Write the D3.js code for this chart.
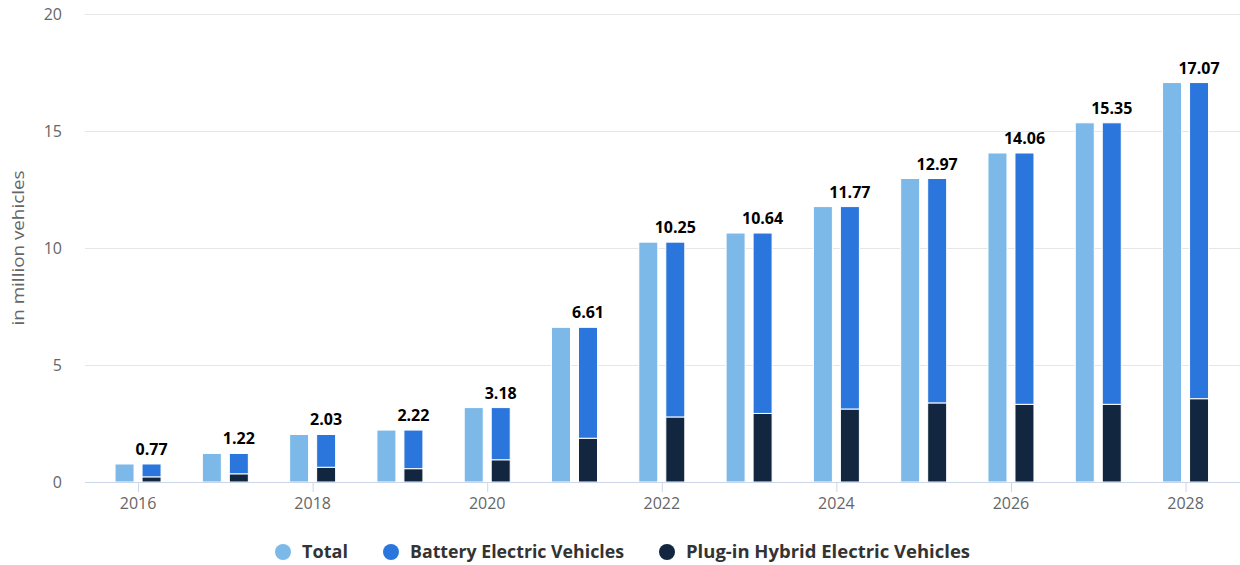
<!DOCTYPE html>
<html>
<head>
<meta charset="utf-8">
<script src="https://cdn.jsdelivr.net/npm/d3@7"></script>
<style>
  html, body { margin: 0; padding: 0; background: #fff; }
  svg { display: block; }
</style>
</head>
<body>
<svg id="chart" width="1240" height="565"></svg>
<script>
const years = [2016, 2017, 2018, 2019, 2020, 2021, 2022, 2023, 2024, 2025, 2026, 2027, 2028];
const totalValues = [0.77, 1.22, 2.03, 2.22, 3.18, 6.61, 10.25, 10.64, 11.77, 12.97, 14.06, 15.35, 17.07];
const bevValues = [0.55, 0.87, 1.40, 1.65, 2.23, 4.74, 7.47, 7.71, 8.65, 9.59, 10.74, 12.03, 13.51];
const phevValues = [0.22, 0.35, 0.63, 0.57, 0.95, 1.87, 2.78, 2.93, 3.12, 3.38, 3.32, 3.32, 3.56];
const yTicks = [0, 5, 10, 15, 20];
const xTickYears = [2016, 2018, 2020, 2022, 2024, 2026, 2028];
const seriesNames = ["Total", "Battery Electric Vehicles", "Plug-in Hybrid Electric Vehicles"];
const colors = ["#7cb9e8", "#2a76dd", "#12263f"];

const svg = d3.select("#chart");
const font = "'Open Sans', 'DejaVu Sans', sans-serif";

const x = d3.scaleBand().domain(years).range([94.4, 1229.2]).paddingInner(0).paddingOuter(0);
const y = d3.scaleLinear().domain([0, 20]).range([482, 14]);
const cx = d => x(d) + x.bandwidth() / 2;

const barW = 19, gap = 4;

// gridlines
svg.append("g").selectAll("line").data(yTicks.filter(t => t > 0)).join("line")
  .attr("x1", 85).attr("x2", 1240)
  .attr("y1", d => y(d) + 0.5).attr("y2", d => y(d) + 0.5)
  .attr("stroke", "#e6e6e6").attr("stroke-width", 1);

// y tick labels
svg.append("g").selectAll("text").data(yTicks).join("text")
  .attr("x", 62).attr("y", d => y(d) + 6)
  .attr("text-anchor", "end")
  .attr("font-family", font).attr("font-size", 16).attr("fill", "#666")
  .text(d => d);

// y axis title
svg.append("text")
  .attr("transform", "translate(24,248) rotate(-90)")
  .attr("text-anchor", "middle")
  .attr("font-family", font).attr("font-size", 17).attr("fill", "#666")
  .attr("textLength", 155).attr("lengthAdjust", "spacingAndGlyphs")
  .text("in million vehicles");

// bars
const groups = svg.append("g").selectAll("g").data(years).join("g");

groups.append("rect")
  .attr("x", (d) => cx(d) - gap - barW)
  .attr("width", barW)
  .attr("y", (d, i) => y(totalValues[i]))
  .attr("height", (d, i) => y(0) - y(totalValues[i]))
  .attr("fill", colors[0]).attr("stroke", "#fff").attr("stroke-width", 1);

groups.append("rect")
  .attr("x", (d) => cx(d) + gap)
  .attr("width", barW)
  .attr("y", (d, i) => y(phevValues[i]))
  .attr("height", (d, i) => y(0) - y(phevValues[i]))
  .attr("fill", colors[2]).attr("stroke", "#fff").attr("stroke-width", 1);

groups.append("rect")
  .attr("x", (d) => cx(d) + gap)
  .attr("width", barW)
  .attr("y", (d, i) => y(phevValues[i] + bevValues[i]))
  .attr("height", (d, i) => y(phevValues[i]) - y(phevValues[i] + bevValues[i]))
  .attr("fill", colors[1]).attr("stroke", "#fff").attr("stroke-width", 1);

// data labels
groups.append("text")
  .attr("x", d => cx(d) + gap + barW / 2)
  .attr("y", (d, i) => y(phevValues[i] + bevValues[i]) - 9)
  .attr("text-anchor", "middle")
  .attr("font-family", font).attr("font-size", 16).attr("font-weight", "bold").attr("fill", "#000")
  .text((d, i) => totalValues[i].toFixed(2));

// x axis line
svg.append("line").attr("x1", 85).attr("x2", 1240).attr("y1", 482.5).attr("y2", 482.5)
  .attr("stroke", "#ccd6eb").attr("stroke-width", 1);

// x ticks
svg.append("g").selectAll("line").data(xTickYears).join("line")
  .attr("x1", d => cx(d) + 0.5).attr("x2", d => cx(d) + 0.5)
  .attr("y1", 482).attr("y2", 492)
  .attr("stroke", "#ccd6eb").attr("stroke-width", 1);

svg.append("g").selectAll("text").data(xTickYears).join("text")
  .attr("x", d => cx(d)).attr("y", 509)
  .attr("text-anchor", "middle")
  .attr("font-family", font).attr("font-size", 16).attr("fill", "#666")
  .text(d => d);

// legend
const legendX = [283, 391, 667];
const legendW = [46, 214, 284];
const legend = svg.append("g").selectAll("g").data(seriesNames).join("g")
  .attr("transform", (d, i) => `translate(${legendX[i]},552)`);
legend.append("circle").attr("r", 8).attr("fill", (d, i) => colors[i]);
legend.append("text").attr("x", 19).attr("y", 6)
  .attr("font-family", font).attr("font-size", 17).attr("font-weight", "bold").attr("fill", "#333")
  .attr("textLength", (d, i) => legendW[i]).attr("lengthAdjust", "spacingAndGlyphs")
  .text(d => d);
</script>
</body>
</html>
